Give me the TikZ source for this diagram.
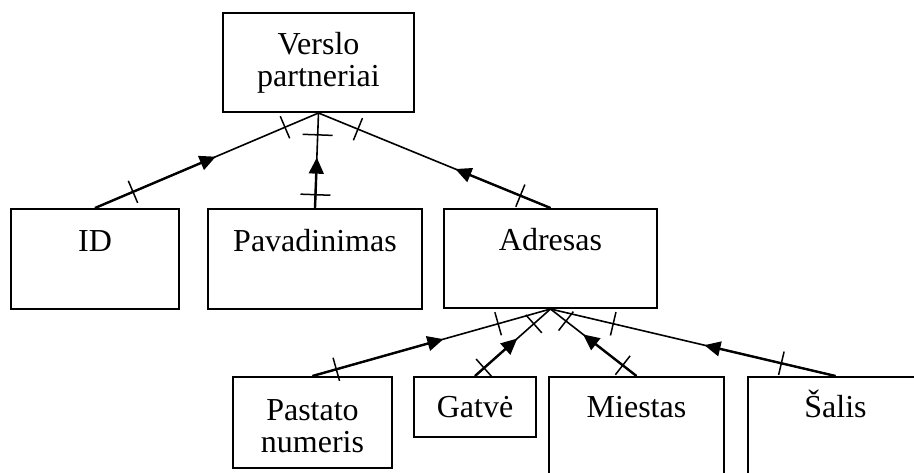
\documentclass[tikz,border=0pt]{standalone}
\usepackage{fontspec}
\setmainfont{Liberation Serif}
\usetikzlibrary{arrows.meta,decorations.markings,calc}

\tikzset{
  box/.style={draw, line width=2pt, rectangle, inner sep=0pt},
  lbl/.style={font=\fontsize{32}{32}\selectfont, align=center, inner sep=0pt, anchor=base},
  % connector child -> parent: tick near child, arrowhead, tick near parent, tick half-length
  rel/.style n args={4}{line width=1.6pt,
    postaction={decorate, decoration={markings,
      mark=at position #1 with {\draw[line width=1.5pt] (0,-#4) -- (0,#4);},
      mark=at position #2 with {\arrow{Triangle[length=16pt,width=15pt]}},
      mark=at position #3 with {\draw[line width=1.5pt] (0,-#4) -- (0,#4);}}}},
  % heavier stroke between the child and the arrowhead
  heavy/.style={line width=2.4pt}
}

\begin{document}
\begin{tikzpicture}[x=1pt,y=-1pt]
\useasboundingbox (0,0) rectangle (914,472);
\clip (0,0) rectangle (914,472);

% entities
\node[box, minimum width=191pt, minimum height=99pt]  (vp)  at (318.5,62.5) {};
\node[box, minimum width=168pt, minimum height=100pt] (id)  at (95,259) {};
\node[box, minimum width=214pt, minimum height=100pt] (pav) at (315,259) {};
\node[box, minimum width=213pt, minimum height=99pt]  (adr) at (550.5,258.5) {};
\node[box, minimum width=159pt, minimum height=91pt]  (pst) at (312.5,422.5) {};
\node[box, minimum width=122pt, minimum height=60pt]  (gat) at (475,407) {};
\node[box, minimum width=175pt, minimum height=140pt] (mie) at (636.5,447) {};
\node[box, minimum width=175pt, minimum height=140pt] (sal) at (835.5,447) {};

% labels (base anchor = baseline of the last line)
\node[lbl] (vpT)  at ($(vp.north)+(0,74)$)  {Verslo\\partneriai};
\node[lbl] (idT)  at ($(id.north)+(0,43)$)  {ID};
\node[lbl] (pavT) at ($(pav.north)+(0,43)$) {Pavadinimas};
\node[lbl] (adrT) at ($(adr.north)+(0,42)$) {Adresas};
\node[lbl] (pstT) at ($(pst.north)+(0,76)$) {Pastato\\numeris};
\node[lbl] (gatT) at ($(gat.north)+(0,41)$) {Gatvė};
\node[lbl] (mieT) at ($(mie.north)+(0,41)$) {Miestas};
\node[lbl] (salT) at ($(sal.north)+(0,41)$) {Šalis};

% relationships
\draw[rel={0.17}{0.54}{0.85}{12pt}] (id.north)  -- (vp.south);
\draw[rel={0.14}{0.53}{0.77}{15pt}] (pav.north) -- (vp.south);
\draw[rel={0.13}{0.41}{0.83}{12pt}] (adr.north) -- (vp.south);

\draw[rel={0.10}{0.55}{0.78}{12pt}] (pst.north) -- (adr.south);
\draw[rel={0.12}{0.56}{0.78}{12pt}] (gat.north) -- (adr.south);
\draw[rel={0.16}{0.62}{0.82}{12pt}] (mie.north) -- (adr.south);
\draw[rel={0.19}{0.46}{0.78}{12pt}] (sal.north) -- (adr.south);

% heavier lower halves
\draw[heavy] (id.north)  -- ($(id.north)!0.50!(vp.south)$);
\draw[heavy] (pav.north) -- ($(pav.north)!0.48!(vp.south)$);
\draw[heavy] (adr.north) -- ($(adr.north)!0.37!(vp.south)$);
\draw[heavy] (pst.north) -- ($(pst.north)!0.50!(adr.south)$);
\draw[heavy] (gat.north) -- ($(gat.north)!0.50!(adr.south)$);
\draw[heavy] (mie.north) -- ($(mie.north)!0.56!(adr.south)$);
\draw[heavy] (sal.north) -- ($(sal.north)!0.42!(adr.south)$);
\end{tikzpicture}
\end{document}
